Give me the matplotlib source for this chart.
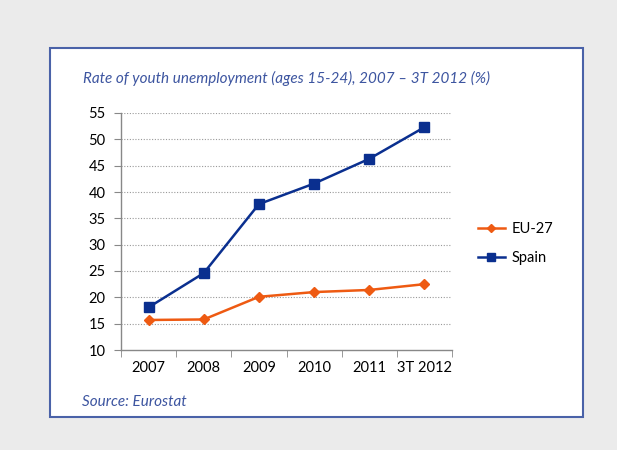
import numpy as np
import matplotlib.pyplot as plt
from matplotlib.patches import Rectangle

# Youth unemployment rate (ages 15-24), %
periods = ["2007", "2008", "2009", "2010", "2011", "3T 2012"]
eu27 = [15.7, 15.8, 20.1, 21.0, 21.4, 22.5]
spain = [18.1, 24.6, 37.7, 41.6, 46.3, 52.3]
y_ticks = [10, 15, 20, 25, 30, 35, 40, 45, 50, 55]

BLUE = "#0a2f8f"
ORANGE = "#ee5a12"
FRAME = "#4a62a8"
TEXT_BLUE = "#3d55a0"

plt.rcParams["font.family"] = ["Lato", "DejaVu Sans"]

fig = plt.figure(figsize=(6.17, 4.5), dpi=100)
fig.patch.set_facecolor("#ebebeb")

# white panel with blue frame, kept behind the axes
panel = Rectangle((50 / 617, 1 - 417 / 450), 533 / 617, 369 / 450,
                  transform=fig.transFigure, facecolor="white",
                  edgecolor=FRAME, linewidth=1.5, zorder=-5)
fig.add_artist(panel)

ax = fig.add_axes([121 / 617, 1 - 350 / 450, 331 / 617, 237 / 450])
ax.set_facecolor("white")

x = np.arange(len(periods))
ax.plot(x, eu27, color=ORANGE, lw=1.8, marker="D", ms=5, label="EU-27", zorder=3)
ax.plot(x, spain, color=BLUE, lw=1.8, marker="s", ms=6.5, label="Spain", zorder=3)

ax.set_xlim(-0.5, len(periods) - 0.5)
ax.set_ylim(10, 55)
ax.set_yticks(y_ticks)
ax.set_yticklabels([str(v) for v in y_ticks], fontsize=10.5)
ax.set_xticks(x)
ax.set_xticklabels(periods, fontsize=10.5)
ax.set_xticks(np.arange(len(periods) + 1) - 0.5, minor=True)
ax.tick_params(axis="x", which="major", length=0, pad=8)
ax.tick_params(axis="x", which="minor", length=5, color="#888888")
ax.tick_params(axis="y", length=5, color="#888888", pad=6)

for v in y_ticks[1:]:
    ax.axhline(v, color="#999999", lw=0.8, ls=(0, (1, 1.5)), zorder=1)

for side in ("top", "right"):
    ax.spines[side].set_visible(False)
for side in ("left", "bottom"):
    ax.spines[side].set_color("#888888")
    ax.spines[side].set_linewidth(1)

ax.legend(loc="center left", bbox_to_anchor=(1.04, 0.45), frameon=False,
          fontsize=10.5, handlelength=1.8, handletextpad=0.5, labelspacing=1.0,
          markerscale=0.85)

fig.text(83 / 617, 1 - 78 / 450,
         "Rate of youth unemployment (ages 15-24), 2007 \u2013 3T 2012 (%)",
         fontsize=11, style="italic", color=TEXT_BLUE, va="center")
fig.text(82 / 617, 1 - 402 / 450, "Source: Eurostat",
         fontsize=11, style="italic", color=TEXT_BLUE, va="center")

fig.savefig("out.png", dpi=100, facecolor=fig.get_facecolor())
